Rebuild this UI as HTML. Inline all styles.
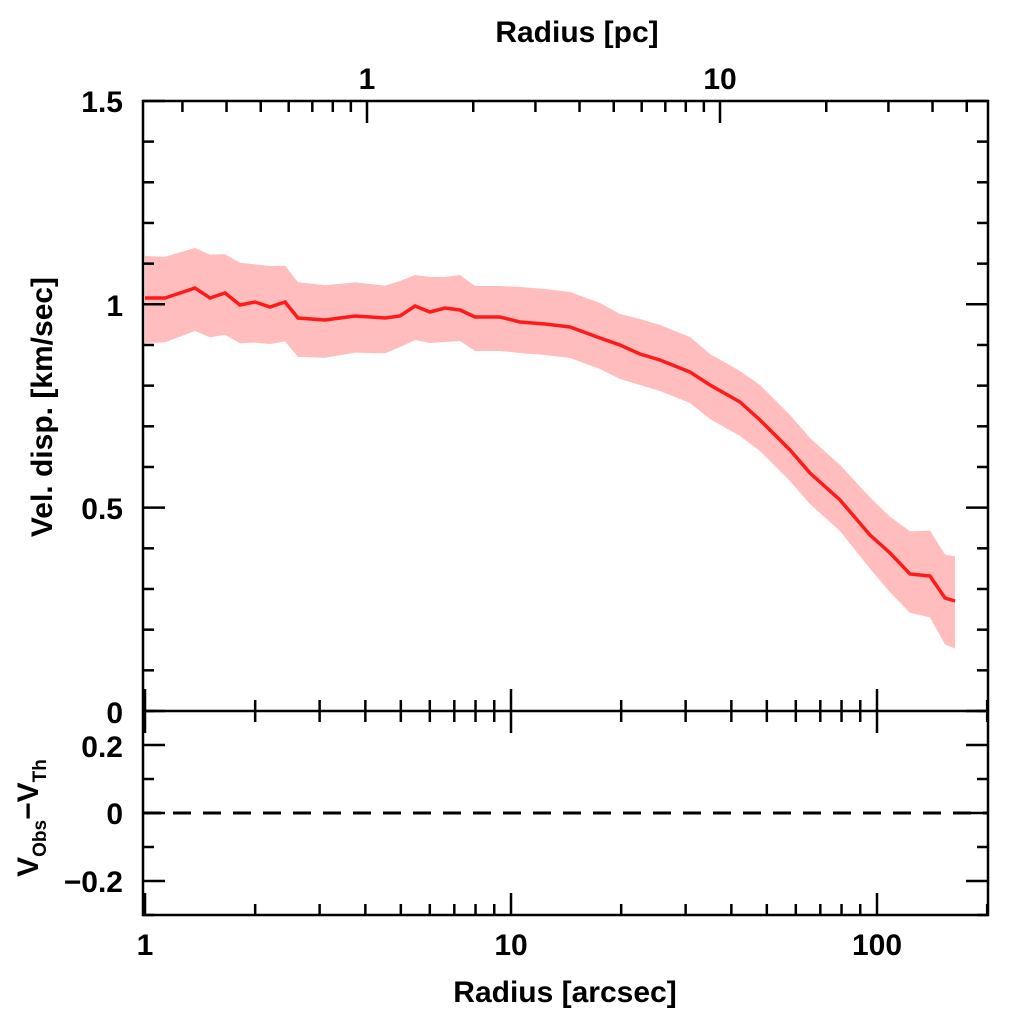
<!DOCTYPE html>
<html><head><meta charset="utf-8"><style>
html,body{margin:0;padding:0;background:#fff;}
svg{display:block;font-family:"Liberation Sans",sans-serif;font-weight:bold;}
</style></head><body>
<svg id="s" width="1024" height="1024" viewBox="0 0 1024 1024" xmlns="http://www.w3.org/2000/svg">
<polygon id="band" fill="#ffbdbd" stroke="none"/>
<polyline id="line" fill="none" stroke="#ff1a1a" stroke-width="3.5"/>
<line x1="143" y1="813" x2="988" y2="813" stroke="#000" stroke-width="3" stroke-dasharray="18,12"/>
<g id="ax" stroke="#000" stroke-width="2.5" fill="none"></g>
<g font-size="30" fill="#000" text-anchor="middle">
<text x="577" y="42">Radius [pc]</text>
<text x="367" y="89">1</text>
<text x="720" y="89">10</text>
<text x="145" y="955">1</text>
<text x="511" y="955">10</text>
<text x="877" y="955">100</text>
<text x="565" y="1002">Radius [arcsec]</text>
</g>
<g font-size="30" fill="#000" text-anchor="end">
<text x="123" y="112">1.5</text>
<text x="123" y="316">1</text>
<text x="123" y="519">0.5</text>
<text x="123" y="723">0</text>
<text x="123" y="757">0.2</text>
<text x="123" y="824">0</text>
<text x="123" y="892">−0.2</text>
</g>
<text font-size="30" transform="translate(52,407) rotate(-90)" text-anchor="middle">Vel. disp. [km/sec]</text>
<text font-size="30" transform="translate(38,818) rotate(-90)" text-anchor="middle">V<tspan font-size="19" dy="8">Obs</tspan><tspan dy="-8">−V</tspan><tspan font-size="19" dy="8">Th</tspan></text>
</svg>
<script>
var L=143,R=988,T=101,M=711,B=915;
var ax=document.getElementById('ax'),h='';
function ln(a,b,c,d){h+='<line x1="'+a+'" y1="'+b+'" x2="'+c+'" y2="'+d+'"/>';}
h+='<rect x="'+L+'" y="'+T+'" width="'+(R-L)+'" height="'+(B-T)+'"/>';
ln(L,M,R,M);
function xa(v){return 145+366*Math.log10(v);}
for(var d=1;d<=100;d*=10)for(var k=1;k<10;k++){var v=d*k,x=xa(v);if(x>R)break;var len=k==1?22:11;
 ln(x,M,x,M-len);ln(x,M,x,M+len);ln(x,B,x,B-len);}
function xp(v){return 367+353*Math.log10(v);}
for(var d=0.1;d<=100;d*=10)for(var k=1;k<10;k++){var v=d*k,x=xp(v);if(x<L||x>R)continue;var len=k==1?22:11;ln(x,T,x,T+len);}
for(var i=0;i<=15;i++){var y=M-i*40.67,len=i%5==0?22:11;ln(L,y,L+len,y);ln(R,y,R-len,y);}
for(var i=-3;i<=3;i++){var y=813-i*34,len=i%2==0?22:11;ln(L,y,L+len,y);ln(R,y,R-len,y);}
ax.innerHTML=h;
var P=[[145,298],[165,298],[195,288],[210,298],[225,293],[240,305],[255,302],[270,307],[285,302],[298,318],[325,320],[355,316],[385,318],[400,316],[415,306],[430,312],[445,308],[460,310],[475,317],[500,317],[520,322],[545,324],[570,327],[600,338],[620,345],[640,354],[660,360],[690,372],[710,385],[740,402],[760,420],[790,450],[810,473],[840,500],[870,535],[890,553],[910,574],[930,576],[945,598],[955,601]];
document.getElementById('line').setAttribute('points',P.map(p=>p.join(',')).join(' '));
function off(x){if(x<400)return 42-(x-145)*0.04;if(x<850)return 31;return 31+(x-850)*0.13;}
var up=P.map(p=>p[0]+','+(p[1]-off(p[0])-(p[0]%30<15?4:0)));
var dn=P.slice().reverse().map(p=>p[0]+','+(p[1]+off(p[0])+(p[0]%30<15?0:3)));
document.getElementById('band').setAttribute('points',up.concat(dn).join(' '));
</script>
</body></html>
